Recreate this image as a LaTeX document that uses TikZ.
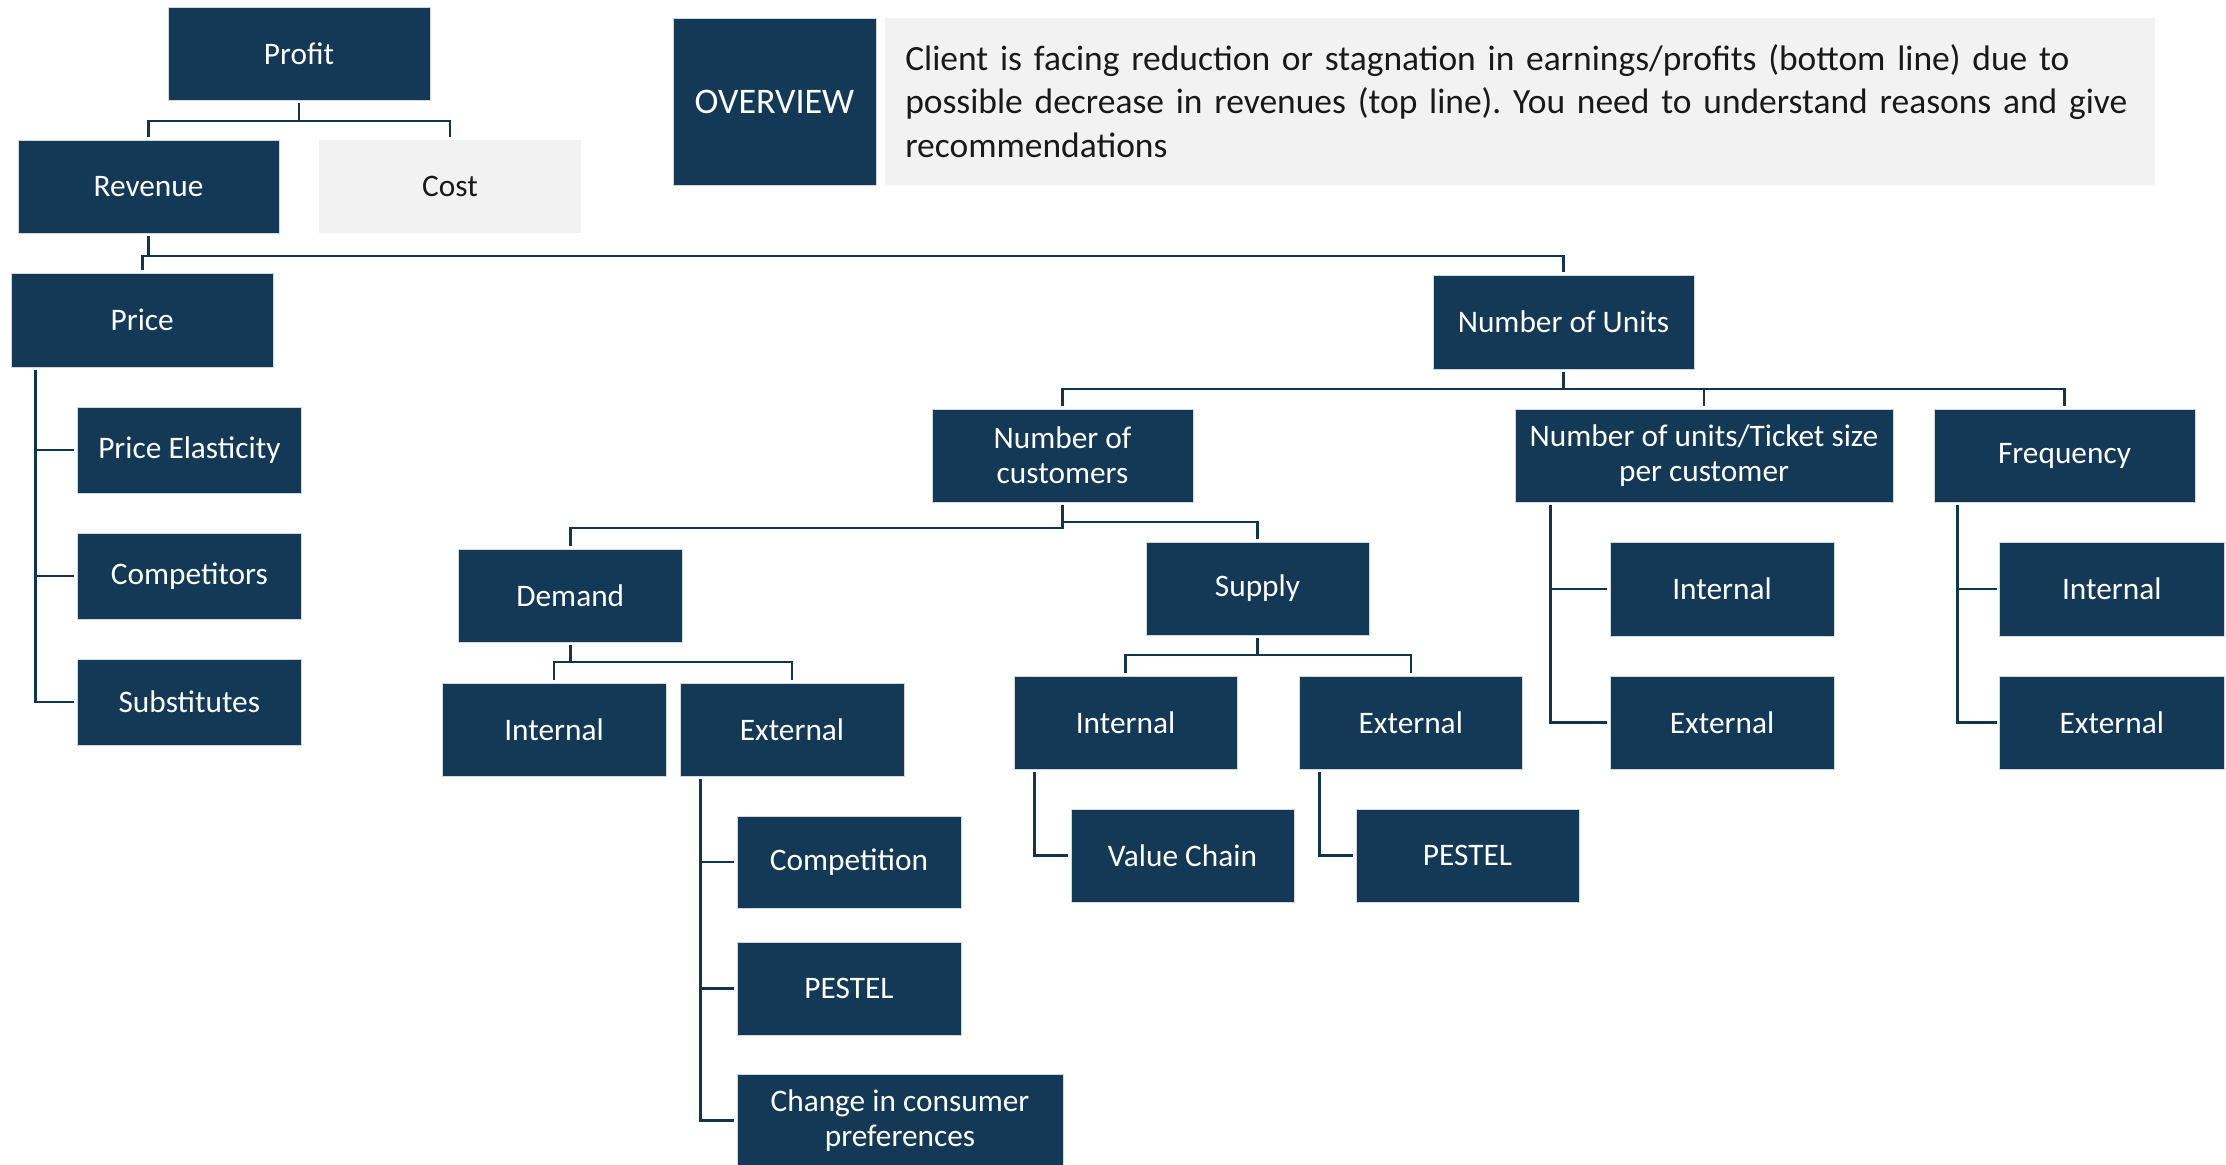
\documentclass[tikz,border=0pt]{standalone}
\usepackage{fontspec}
\setmainfont{Carlito}
\usetikzlibrary{calc}
\definecolor{navy}{HTML}{133956}
\definecolor{lnav}{HTML}{12344F}
\definecolor{lgrey}{HTML}{F2F2F2}
\tikzset{
  dark/.style={fill=navy, draw=white!80!navy, line width=0.5pt, text=white, font=\fontsize{23.5}{26}\selectfont, align=center, inner sep=0pt},
  light/.style={fill=lgrey, draw=none, text=black!90, font=\fontsize{23.5}{26}\selectfont, align=center, inner sep=0pt},
  conn/.style={draw=lnav, line width=1.9pt, shorten <=2pt, shorten >=2pt},
}
\newcommand\mybox[7]{\node[#1, minimum width={(#5-#3)*0.75pt}, minimum height={(#6-#4)*0.75pt}] (#2) at ({(#3+#5)/2},{(#4+#6)/2}) {#7};}
\begin{document}
\frenchspacing
\begin{tikzpicture}[x=0.75pt,y=-0.75pt]
\useasboundingbox (0,0) rectangle (2226,1164);
\fill[white] (0,0) rectangle (2226,1164);
% boxes
\mybox{dark}{profit}{168}{7}{430}{100}{Profit}
\mybox{dark}{revenue}{18}{140}{279}{233}{Revenue}
\mybox{light}{cost}{319}{140}{581}{233}{Cost}
\mybox{dark}{price}{11.5}{273}{273}{367}{Price}
\mybox{dark}{pe}{77}{407}{301.7}{493}{Price Elasticity}
\mybox{dark}{compet}{77}{533}{301.7}{619}{Competitors}
\mybox{dark}{subst}{77}{659}{301.7}{745}{Substitutes}
\mybox{dark}{overview}{673}{18}{876}{185}{\fontsize{27}{30}\selectfont OVERVIEW}
\mybox{light}{ovbox}{885}{18}{2155}{185}{}
\node[anchor=base west, text width=1100pt, align=left, inner sep=0pt, font=\fontsize{26.6}{32.8}\selectfont, text=black!90] (ovtext) at (905,70) {Client is facing reduction or stagnation in earnings/profits (bottom line) due to\\possible decrease in revenues (top line). You need to understand reasons and give\\recommendations};
\mybox{dark}{nou}{1433}{275}{1694}{369}{Number of Units}
\mybox{dark}{ncust}{932}{409}{1193}{502}{Number of\\customers}
\mybox{dark}{ticket}{1515}{409}{1893}{502}{Number of units/Ticket size\\per customer}
\mybox{dark}{freq}{1934}{409}{2195}{502}{Frequency}
\mybox{dark}{demand}{458.5}{549}{682}{642}{Demand}
\mybox{dark}{dint}{442}{683}{666}{776}{Internal}
\mybox{dark}{dext}{680}{683}{904}{776}{External}
\mybox{dark}{dcomp}{737}{816}{961}{908}{Competition}
\mybox{dark}{dpest}{737}{942}{961}{1035}{PESTEL}
\mybox{dark}{dchange}{737}{1074}{1063}{1167}{Change in consumer\\preferences}
\mybox{dark}{supply}{1146}{542}{1369}{635}{Supply}
\mybox{dark}{sint}{1014}{676}{1237}{769}{Internal}
\mybox{dark}{sext}{1299}{676}{1522.5}{769}{External}
\mybox{dark}{vchain}{1071}{809}{1294}{902}{Value Chain}
\mybox{dark}{spest}{1356}{809}{1579}{902}{PESTEL}
\mybox{dark}{tint}{1610}{542}{1834}{636}{Internal}
\mybox{dark}{text}{1610}{676}{1834}{769}{External}
\mybox{dark}{fint}{1999.5}{542}{2224}{636}{Internal}
\mybox{dark}{fext}{1999.5}{676}{2224}{769}{External}
% bus levels
\coordinate (b1) at (0,121);
\coordinate (b2) at (0,256);
\coordinate (b3) at (0,389);
\coordinate (b4) at (0,528);
\coordinate (b5) at (0,522);
\coordinate (b6) at (0,662);
\coordinate (b7) at (0,655);
% connectors
\draw[conn] (profit.south) -- (profit.south |- b1) -| (revenue.north);
\draw[conn] (profit.south) -- (profit.south |- b1) -| (cost.north);
\draw[conn] (revenue.south) -- (revenue.south |- b2) -| (price.north);
\draw[conn] (revenue.south) -- (revenue.south |- b2) -| (nou.north);
\draw[conn] ($(price.south west)+(24.5,0)$) |- (pe.west);
\draw[conn] ($(price.south west)+(24.5,0)$) |- (compet.west);
\draw[conn] ($(price.south west)+(24.5,0)$) |- (subst.west);
\draw[conn] (nou.south) -- (nou.south |- b3) -| (ncust.north);
\draw[conn] (nou.south) -- (nou.south |- b3) -| (ticket.north);
\draw[conn] (nou.south) -- (nou.south |- b3) -| (freq.north);
\draw[conn] (ncust.south) -- (ncust.south |- b4) -| (demand.north);
\draw[conn] (ncust.south) -- (ncust.south |- b5) -| (supply.north);
\draw[conn] (demand.south) -- (demand.south |- b6) -| (dint.north);
\draw[conn] (demand.south) -- (demand.south |- b6) -| (dext.north);
\draw[conn] ($(dext.south west)+(21,0)$) |- (dcomp.west);
\draw[conn] ($(dext.south west)+(21,0)$) |- (dpest.west);
\draw[conn] ($(dext.south west)+(21,0)$) |- (dchange.west);
\draw[conn] (supply.south) -- (supply.south |- b7) -| (sint.north);
\draw[conn] (supply.south) -- (supply.south |- b7) -| (sext.north);
\draw[conn] ($(sint.south west)+(21,0)$) |- (vchain.west);
\draw[conn] ($(sext.south west)+(21,0)$) |- (spest.west);
\draw[conn] ($(ticket.south west)+(36,0)$) |- (tint.west);
\draw[conn] ($(ticket.south west)+(36,0)$) |- (text.west);
\draw[conn] ($(freq.south west)+(24,0)$) |- (fint.west);
\draw[conn] ($(freq.south west)+(24,0)$) |- (fext.west);
\end{tikzpicture}
\end{document}
